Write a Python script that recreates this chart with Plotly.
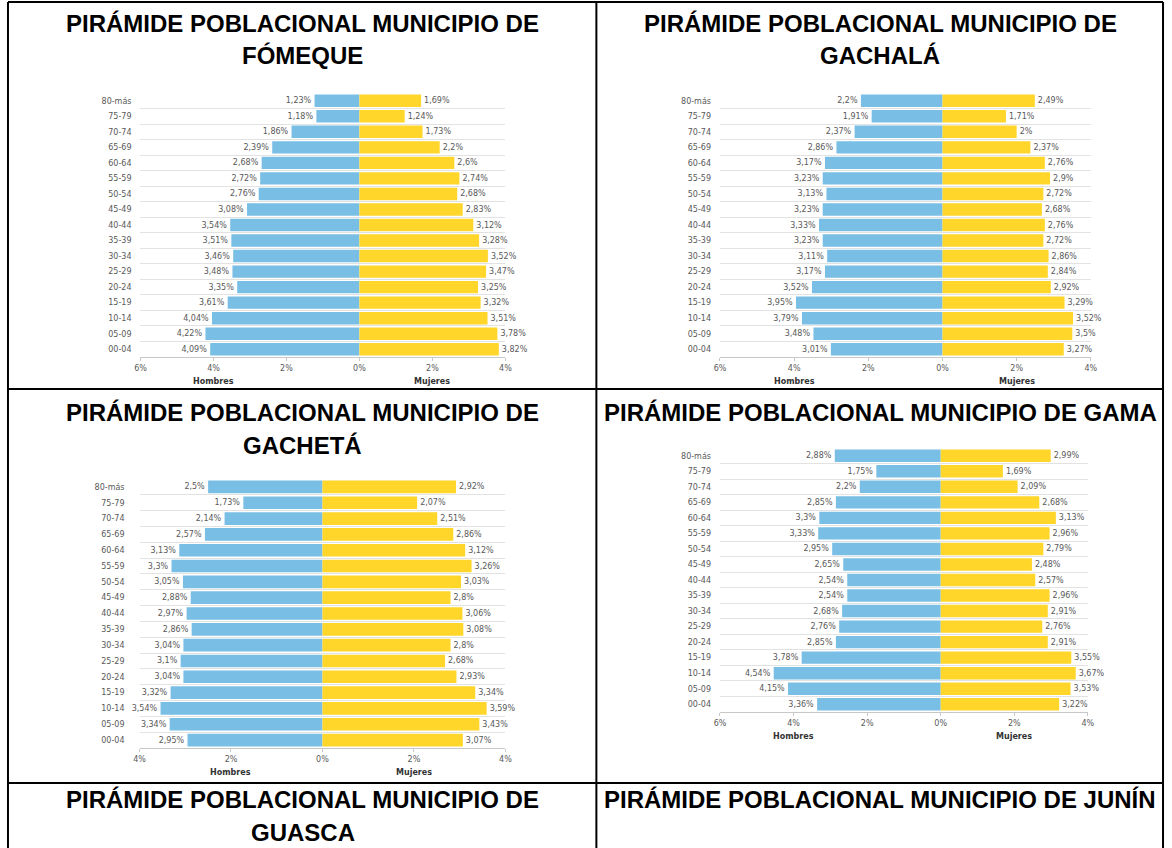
import plotly.graph_objects as go

W, H = 1172, 848

age_groups = ["80-más", "75-79", "70-74", "65-69", "60-64", "55-59", "50-54", "45-49", "40-44",
              "35-39", "30-34", "25-29", "20-24", "15-19", "10-14", "05-09", "00-04"]

fomeque_hombres = [1.23, 1.18, 1.86, 2.39, 2.68, 2.72, 2.76, 3.08, 3.54, 3.51, 3.46, 3.48, 3.35, 3.61, 4.04, 4.22, 4.09]
fomeque_mujeres = [1.69, 1.24, 1.73, 2.2, 2.6, 2.74, 2.68, 2.83, 3.12, 3.28, 3.52, 3.47, 3.25, 3.32, 3.51, 3.78, 3.82]

gachala_hombres = [2.2, 1.91, 2.37, 2.86, 3.17, 3.23, 3.13, 3.23, 3.33, 3.23, 3.11, 3.17, 3.52, 3.95, 3.79, 3.48, 3.01]
gachala_mujeres = [2.49, 1.71, 2, 2.37, 2.76, 2.9, 2.72, 2.68, 2.76, 2.72, 2.86, 2.84, 2.92, 3.29, 3.52, 3.5, 3.27]

gacheta_hombres = [2.5, 1.73, 2.14, 2.57, 3.13, 3.3, 3.05, 2.88, 2.97, 2.86, 3.04, 3.1, 3.04, 3.32, 3.54, 3.34, 2.95]
gacheta_mujeres = [2.92, 2.07, 2.51, 2.86, 3.12, 3.26, 3.03, 2.8, 3.06, 3.08, 2.8, 2.68, 2.93, 3.34, 3.59, 3.43, 3.07]

gama_hombres = [2.88, 1.75, 2.2, 2.85, 3.3, 3.33, 2.95, 2.65, 2.54, 2.54, 2.68, 2.76, 2.85, 3.78, 4.54, 4.15, 3.36]
gama_mujeres = [2.99, 1.69, 2.09, 2.68, 3.13, 2.96, 2.79, 2.48, 2.57, 2.96, 2.91, 2.76, 2.91, 3.55, 3.67, 3.53, 3.22]

ticks_wide = [-6, -4, -2, 0, 2, 4]
ticks_even = [-4, -2, 0, 2, 4]

titles = [
    ["PIRÁMIDE POBLACIONAL MUNICIPIO DE", "FÓMEQUE"],
    ["PIRÁMIDE POBLACIONAL MUNICIPIO DE", "GACHALÁ"],
    ["PIRÁMIDE POBLACIONAL MUNICIPIO DE", "GACHETÁ"],
    ["PIRÁMIDE POBLACIONAL MUNICIPIO DE GAMA"],
    ["PIRÁMIDE POBLACIONAL MUNICIPIO DE", "GUASCA"],
    ["PIRÁMIDE POBLACIONAL MUNICIPIO DE JUNÍN"],
]

BLUE = "#79BEE5"
YELLOW = "#FFD629"
GRAY_TXT = "#595959"
LABEL_FONT = "DejaVu Sans"


def fx(p):
    return p / W


def fy(p):
    return 1 - p / H


def pct(v):
    return f"{v:g}".replace(".", ",") + "%"


# pixel boxes of each pyramid: (x0, x1, y0, y1), plus gap between row labels and plot
charts = [
    dict(men=fomeque_hombres, women=fomeque_mujeres, box=(136, 505, 93, 357), rng=(-6, 4),
         ticks=ticks_wide, hx=-4, mx=2, gap=8),
    dict(men=gachala_hombres, women=gachala_mujeres, box=(722, 1097, 93, 357), rng=(-6, 4),
         ticks=ticks_wide, hx=-4, mx=2, gap=8),
    dict(men=gacheta_hombres, women=gacheta_mujeres, box=(135, 505, 479, 748), rng=(-4, 4),
         ticks=ticks_even, hx=-2, mx=2, gap=14),
    dict(men=gama_hombres, women=gama_mujeres, box=(722, 1094, 448, 712), rng=(-6, 4),
         ticks=ticks_wide, hx=-4, mx=2, gap=8),
]

fig = go.Figure()
annotations = []

for i, c in enumerate(charts, start=1):
    xa = "x" if i == 1 else f"x{i}"
    ya = "y" if i == 1 else f"y{i}"
    fig.add_trace(go.Bar(
        y=age_groups, x=[-v for v in c["men"]], orientation="h",
        marker=dict(color=BLUE, line=dict(width=0)),
        text=[pct(v) for v in c["men"]], textposition="outside", cliponaxis=False,
        textfont=dict(size=8, color=GRAY_TXT, family=LABEL_FONT),
        xaxis=xa, yaxis=ya, name="Hombres",
    ))
    fig.add_trace(go.Bar(
        y=age_groups, x=c["women"], orientation="h",
        marker=dict(color=YELLOW, line=dict(width=0)),
        text=[pct(v) for v in c["women"]], textposition="outside", cliponaxis=False,
        textfont=dict(size=8, color=GRAY_TXT, family=LABEL_FONT),
        xaxis=xa, yaxis=ya, name="Mujeres",
    ))
    x0, x1, y0, y1 = c["box"]
    key = "" if i == 1 else str(i)
    fig.update_layout(**{
        f"xaxis{key}": dict(
            domain=[fx(x0), fx(x1)], range=list(c["rng"]), anchor=ya,
            tickvals=c["ticks"], ticktext=[f"{abs(t)}%" for t in c["ticks"]],
            showgrid=False, zeroline=False, showline=True, linecolor="#C8C8C8",
            ticks="outside", ticklen=3, tickcolor="#C8C8C8",
            tickfont=dict(size=8, color=GRAY_TXT, family=LABEL_FONT),
        ),
        f"yaxis{key}": dict(
            domain=[fy(y1), fy(y0)], anchor=xa, type="category",
            categoryorder="array", categoryarray=age_groups[::-1],
            tickson="boundaries", showgrid=True, gridcolor="#E2E2E2", gridwidth=1,
            ticks="", showline=False, zeroline=False, ticklabelstandoff=c["gap"],
            tickfont=dict(size=8, color=GRAY_TXT, family=LABEL_FONT),
        ),
    })
    for label, xpos in (("Hombres", c["hx"]), ("Mujeres", c["mx"])):
        annotations.append(dict(
            text=label, x=xpos, xref=xa, y=fy(y1 + 24), yref="paper",
            xanchor="center", yanchor="middle", showarrow=False,
            font=dict(size=8, color="#333333", family=LABEL_FONT, weight="bold"),
        ))

# cell titles: (center x px, first line y px)
title_pos = [(300, 23), (884, 23), (300, 412), (884, 412), (300, 799), (884, 799)]
for lines, (cx, ty) in zip(titles, title_pos):
    for k, line in enumerate(lines):
        annotations.append(dict(
            text=line, x=fx(cx), y=fy(ty + 33 * k), xref="paper", yref="paper",
            showarrow=False, xanchor="center", yanchor="middle",
            font=dict(size=24, color="black", family="Liberation Sans", weight="bold"),
        ))

# table grid lines (pixels)
grid_lines = [
    (2, 2, 1170, 2), (2, 389, 1170, 389), (2, 783, 1170, 783),
    (2, 2, 2, 848), (597, 2, 597, 848), (1170, 2, 1170, 848),
]
shapes = [dict(type="line", xref="paper", yref="paper", x0=fx(a), y0=fy(b), x1=fx(c), y1=fy(d),
               line=dict(color="black", width=2)) for a, b, c, d in grid_lines]

fig.update_layout(
    width=W, height=H, margin=dict(l=0, r=0, t=0, b=0),
    paper_bgcolor="white", plot_bgcolor="white",
    barmode="relative", bargap=0.2, showlegend=False,
    annotations=annotations, shapes=shapes,
)

fig.write_html("out.html", config={"displayModeBar": False},
               post_script="document.body.style.margin='0';")
